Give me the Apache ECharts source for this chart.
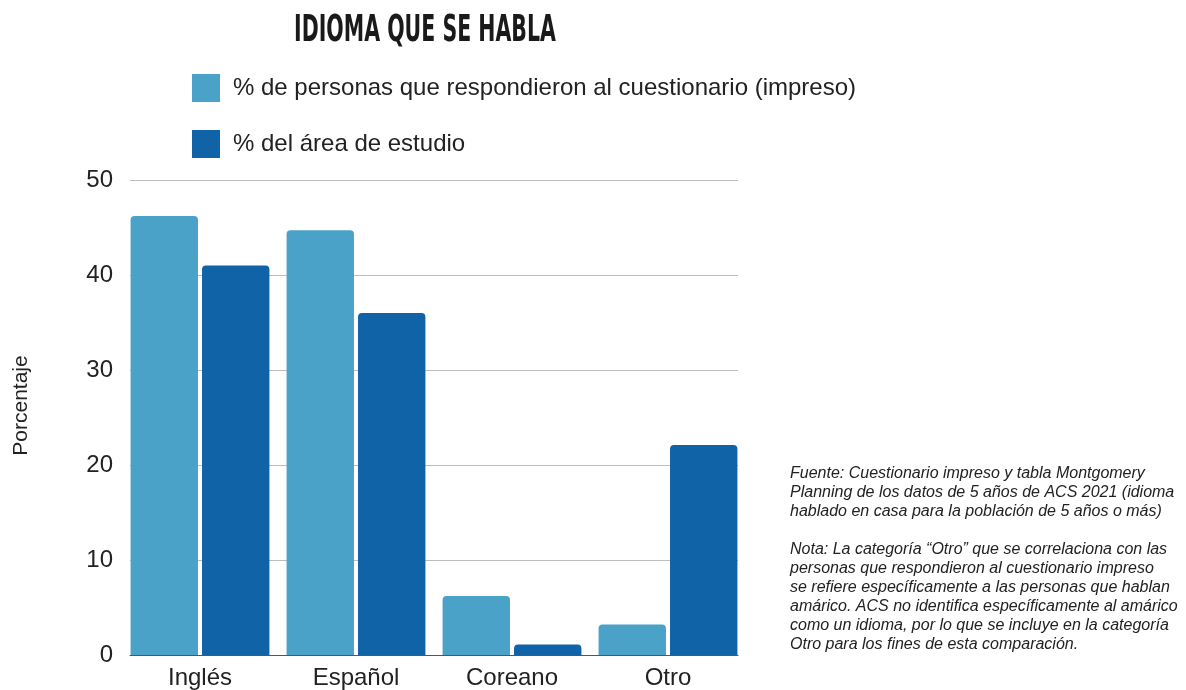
<!DOCTYPE html>
<html><head><meta charset="utf-8">
<script src="https://cdn.jsdelivr.net/npm/echarts@6/dist/echarts.min.js"></script>
<style>html,body{margin:0;padding:0;background:#fff}#c{width:1186px;height:690px}</style>
</head><body><div id="c"></div>
<script>
const categories = ['Inglés', 'Español', 'Coreano', 'Otro'];
const seriesNames = ['% de personas que respondieron al cuestionario (impreso)', '% del área de estudio'];
const cuestionario = [46.2, 44.7, 6.2, 3.2];
const areaEstudio = [41.0, 36.0, 1.1, 22.1];
const yTicks = [0, 10, 20, 30, 40, 50];
const titleText = 'IDIOMA QUE SE HABLA';
const yName = 'Porcentaje';
const noteText = [
  'Fuente: Cuestionario impreso y tabla Montgomery',
  'Planning de los datos de 5 años de ACS 2021 (idioma',
  'hablado en casa para la población de 5 años o más)',
  '',
  'Nota: La categoría “Otro” que se correlaciona con las',
  'personas que respondieron al cuestionario impreso',
  'se refiere específicamente a las personas que hablan',
  'amárico. ACS no identifica específicamente al amárico',
  'como un idioma, por lo que se incluye en la categoría',
  'Otro para los fines de esta comparación.'
].join('\n');

const colors = ['#4AA2C8', '#1163A7'];
const chart = echarts.init(document.getElementById('c'), null, {renderer: 'canvas'});
const font = '"Liberation Sans", Arial, sans-serif';
chart.setOption({
  animation: false,
  color: colors,
  legend: {
    orient: 'vertical', left: 187, top: 69, itemWidth: 28, itemHeight: 28, itemGap: 28,
    icon: 'rect', data: seriesNames,
    textStyle: {fontFamily: font, fontSize: 24, color: '#222', padding: [0, 0, 0, 8]}
  },
  graphic: [
    {type: 'text', x: 294, y: 12, scaleX: 0.6, scaleY: 1,
     style: {text: titleText, fontFamily: '"Liberation Sans Narrow", "DejaVu Sans Condensed", sans-serif',
       fontWeight: 'bold', fontSize: 38, fill: '#1a1a1a', verticalAlign: 'top', align: 'left'}},
    {type: 'text', x: 790, y: 464,
     style: {text: noteText, fontFamily: font, fontStyle: 'italic', fontSize: 16, lineHeight: 19, fill: '#222'}}
  ],
  grid: [
    {left: 130, right: 1186 - 738, top: 180, bottom: 690 - 655},
    {left: 122, right: 1186 - 746, top: 180, bottom: 690 - 655}
  ],
  xAxis: [
    {gridIndex: 0, type: 'category', data: categories, axisTick: {show: false}, axisLabel: {show: false},
     axisLine: {lineStyle: {color: '#555', width: 1}}},
    {gridIndex: 1, type: 'category', data: categories, axisTick: {show: false}, axisLine: {show: false},
     axisLabel: {fontFamily: font, fontSize: 24, color: '#222', margin: 11}}
  ],
  yAxis: [
    {gridIndex: 0, type: 'value', min: yTicks[0], max: yTicks[yTicks.length - 1], interval: 10,
     name: yName, nameLocation: 'middle', nameGap: 98, nameRotate: 90,
     nameTextStyle: {fontFamily: font, fontSize: 21, color: '#222', padding: [0, 0, 0, 24]},
     axisLabel: {fontFamily: font, fontSize: 24, color: '#222', margin: 17},
     splitLine: {lineStyle: {color: '#bdbdbd', width: 1}}},
    {gridIndex: 1, type: 'value', min: yTicks[0], max: yTicks[yTicks.length - 1], interval: 10,
     axisLabel: {show: false}, splitLine: {show: false}, axisLine: {show: false}}
  ],
  series: [
    {name: seriesNames[0], type: 'bar', xAxisIndex: 1, yAxisIndex: 1, data: cuestionario,
     barCategoryGap: '11%', barGap: '6%', itemStyle: {color: colors[0], borderRadius: [4, 4, 0, 0]}},
    {name: seriesNames[1], type: 'bar', xAxisIndex: 1, yAxisIndex: 1, data: areaEstudio,
     barCategoryGap: '11%', barGap: '6%', itemStyle: {color: colors[1], borderRadius: [4, 4, 0, 0]}}
  ]
});
</script></body></html>
